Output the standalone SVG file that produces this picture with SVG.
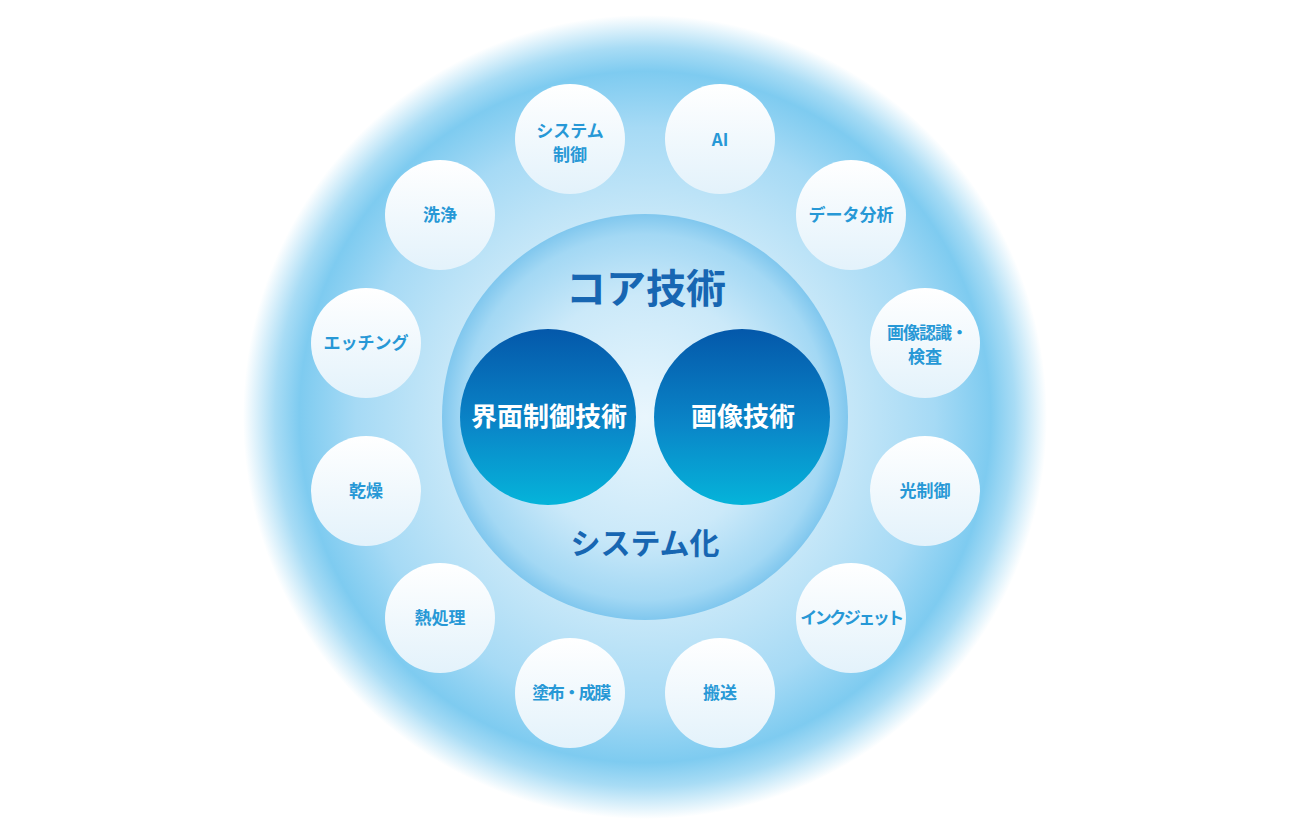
<svg xmlns="http://www.w3.org/2000/svg" width="1290" height="840" viewBox="0 0 1290 840">
<defs>
<radialGradient id="gOuter" cx="645" cy="417" r="402" gradientUnits="userSpaceOnUse">
<stop offset="0" stop-color="#dff1fb"/>
<stop offset="0.5" stop-color="#c6e7f8"/>
<stop offset="0.72" stop-color="#a6daf5"/>
<stop offset="0.86" stop-color="#7ecbf0"/>
<stop offset="0.92" stop-color="#a8dcf5"/>
<stop offset="1" stop-color="#ffffff"/>
</radialGradient>
<radialGradient id="gCore" cx="645" cy="417" r="203" gradientUnits="userSpaceOnUse">
<stop offset="0" stop-color="#e9f6fd"/>
<stop offset="0.6" stop-color="#cbe9f9"/>
<stop offset="0.9" stop-color="#a3d8f4"/>
<stop offset="1" stop-color="#80c7ee"/>
</radialGradient>
<linearGradient id="gInner" x1="0" y1="0" x2="0" y2="1">
<stop offset="0" stop-color="#0458aa"/>
<stop offset="0.55" stop-color="#0a86c8"/>
<stop offset="1" stop-color="#05b4da"/>
</linearGradient>
<linearGradient id="gSmall" x1="0" y1="0" x2="0" y2="1">
<stop offset="0" stop-color="#ffffff"/>
<stop offset="1" stop-color="#e3f2fb"/>
</linearGradient>
</defs>
<style>
.sm{fill:url(#gSmall)}
.st{font-family:"Noto Sans CJK JP","Noto Sans",sans-serif;font-weight:bold;font-size:17px;fill:#2798d6;text-anchor:middle}
.big{font-family:"Noto Sans CJK JP","Noto Sans",sans-serif;font-weight:bold;fill:#1766b2;text-anchor:middle}
.wt{font-family:"Noto Sans CJK JP","Noto Sans",sans-serif;font-weight:bold;font-size:26px;fill:#ffffff;text-anchor:middle}
</style>
<rect width="1290" height="840" fill="#ffffff"/>
<circle id="outer" cx="645" cy="417" r="402" fill="url(#gOuter)"/>
<g id="connectors"/>
<g id="core">
<circle cx="645" cy="417" r="203" fill="url(#gCore)"/>
<text class="big" x="646" y="303" font-size="40">コア技術</text>
<text class="big" x="645" y="554" font-size="30">システム化</text>
</g>
<g id="interface">
<circle cx="548" cy="417" r="88" fill="url(#gInner)"/>
<text class="wt" x="549" y="426">界面制御技術</text>
</g>
<g id="image">
<circle cx="742" cy="417" r="88" fill="url(#gInner)"/>
<text class="wt" x="743" y="426">画像技術</text>
</g>
<g id="n1"><circle class="sm" cx="570" cy="139" r="55"/><text class="st" x="570" y="137">システム</text><text class="st" x="570" y="161">制御</text></g>
<g id="n2"><circle class="sm" cx="720" cy="139" r="55"/><text class="st" x="720" y="146">AI</text></g>
<g id="n3"><circle class="sm" cx="851" cy="215" r="55"/><text class="st" x="851" y="221">データ分析</text></g>
<g id="n4"><circle class="sm" cx="925" cy="343" r="55"/><text class="st" x="927" y="339" letter-spacing="-1">画像認識・</text><text class="st" x="925" y="363">検査</text></g>
<g id="n5"><circle class="sm" cx="925" cy="491" r="55"/><text class="st" x="925" y="497">光制御</text></g>
<g id="n6"><circle class="sm" cx="851" cy="618" r="55"/><text class="st" x="851" y="624" letter-spacing="-2.5">インクジェット</text></g>
<g id="n7"><circle class="sm" cx="720" cy="693" r="55"/><text class="st" x="720" y="699">搬送</text></g>
<g id="n8"><circle class="sm" cx="570" cy="693" r="55"/><text class="st" x="571" y="699" letter-spacing="-1.5">塗布・成膜</text></g>
<g id="n9"><circle class="sm" cx="440" cy="618" r="55"/><text class="st" x="440" y="624">熱処理</text></g>
<g id="n10"><circle class="sm" cx="366" cy="491" r="55"/><text class="st" x="366" y="497">乾燥</text></g>
<g id="n11"><circle class="sm" cx="366" cy="343" r="55"/><text class="st" x="366" y="349">エッチング</text></g>
<g id="n12"><circle class="sm" cx="440" cy="215" r="55"/><text class="st" x="440" y="221">洗浄</text></g>
</svg>
